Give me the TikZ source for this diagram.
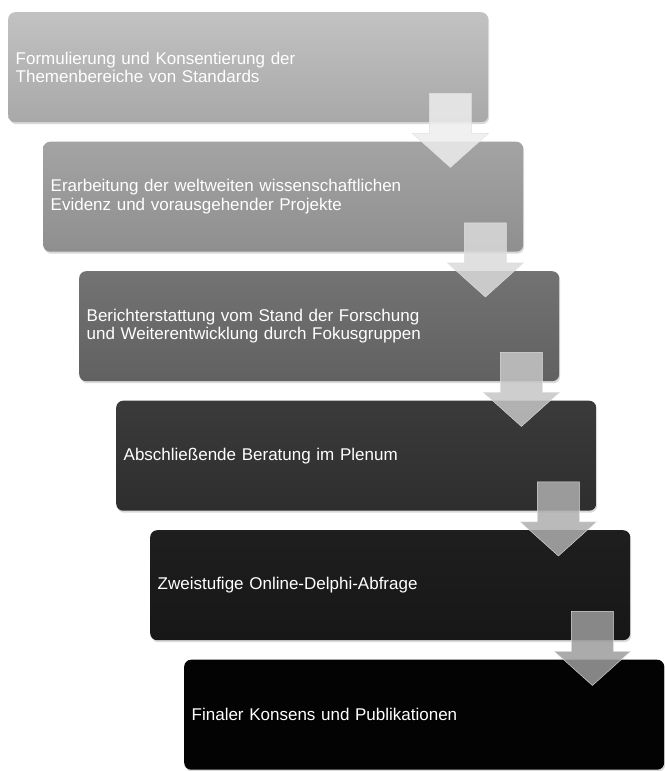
\documentclass[tikz,border=0pt]{standalone}
\usepackage{fontspec}
\setmainfont{Liberation Sans}
\usetikzlibrary{calc,shadows}

\definecolor{arrA}{HTML}{EDEDED}
\definecolor{arrB}{HTML}{DADADA}
\definecolor{arrC}{HTML}{C6C6C6}
\definecolor{arrD}{HTML}{AEAEAE}
\definecolor{arrE}{HTML}{9C9C9C}

\tikzset{
  stage/.style={anchor=north west, rounded corners=7pt, minimum height=110pt,
    text width=465pt, inner xsep=7.5pt, align=left, text=white,
    font=\fontsize{17}{18.5}\selectfont,
    drop shadow={shadow xshift=1pt, shadow yshift=-2pt, opacity=0.3}},
  flow/.style={fill opacity=0.85, draw=black!12, line width=0.4pt}
}

\begin{document}
\begin{tikzpicture}[x=1pt,y=-1pt]
\useasboundingbox (0,0) rectangle (664,771);
\node[stage, top color=black!24, bottom color=black!34] (s1) at (8,12)
  {Formulierung und Konsentierung der\\Themenbereiche von Standards};
\node[stage, top color=black!36, bottom color=black!44] (s2) at (43,141.5)
  {Erarbeitung der weltweiten wissenschaftlichen\\Evidenz und vorausgehender Projekte};
\node[stage, top color=black!55, bottom color=black!62] (s3) at (79,271)
  {Berichterstattung vom Stand der Forschung\\und Weiterentwicklung durch Fokusgruppen};
\node[stage, top color=black!77, bottom color=black!82] (s4) at (116,400.5)
  {Abschließende Beratung im Plenum};
\node[stage, top color=black!88, bottom color=black!91] (s5) at (150,530)
  {Zweistufige Online-Delphi-Abfrage};
\node[stage, fill=black!99] (s6) at (184,659.5)
  {Finaler Konsens und Publikationen};

% Pfeile zwischen den Stufen
\foreach \a/\b/\c in {s1/s2/arrA, s2/s3/arrB, s3/s4/arrC, s4/s5/arrD, s5/s6/arrE}
  \filldraw[flow, fill=\c] let \p1=(\a.south east), \p2=(\b.north) in
    (\x1-59,\y1+29) -- (\x1-17,\y1+29) -- (\x1-17,\y1-11) -- (\x1,\y1-11)
    -- (\x1-38,\y2-26) -- (\x1-76,\y1-11) -- (\x1-59,\y1-11) -- cycle;
\end{tikzpicture}
\end{document}
